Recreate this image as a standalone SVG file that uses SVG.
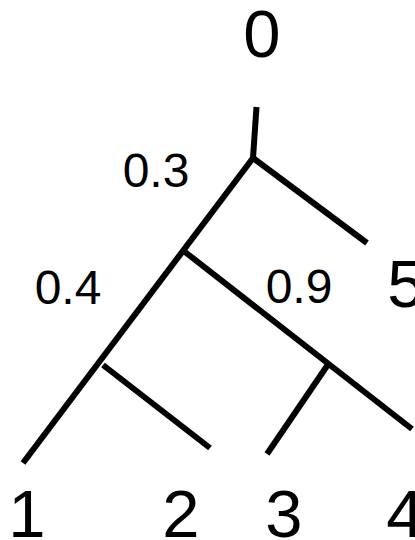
<svg xmlns="http://www.w3.org/2000/svg" width="415" height="540" viewBox="0 0 415 540">
<style>
.e{stroke:#000;stroke-width:6;fill:none;stroke-linecap:butt}
.big{font-family:"Liberation Sans",Arial,sans-serif;font-size:67px;fill:#000;text-anchor:middle}
.w{font-family:"Liberation Sans",Arial,sans-serif;font-size:48px;fill:#000;text-anchor:middle}
</style>
<rect width="415" height="540" fill="#fff"/>
<g id="connectors">
<path class="e" d="M256.5,107 L253,158"/>
<path class="e" d="M253,158 L367,243"/>
<path class="e" d="M253,158 L23,463"/>
<path class="e" d="M185,252 L412,429"/>
<path class="e" d="M103,365 L210,448"/>
<path class="e" d="M329,363 L267,454"/>
</g>
<g id="node-0"><text class="big" x="262" y="57">0</text></g>
<g id="node-1"><text class="big" x="27" y="537">1</text></g>
<g id="node-2"><text class="big" x="181" y="537">2</text></g>
<g id="node-3"><text class="big" x="284" y="537">3</text></g>
<g id="node-4"><text class="big" x="405" y="537">4</text></g>
<g id="node-5"><text class="big" x="406" y="307">5</text></g>
<g id="labels">
<text class="w" x="156" y="187">0.3</text>
<text class="w" x="68" y="304">0.4</text>
<text class="w" x="299" y="303">0.9</text>
</g>
</svg>
